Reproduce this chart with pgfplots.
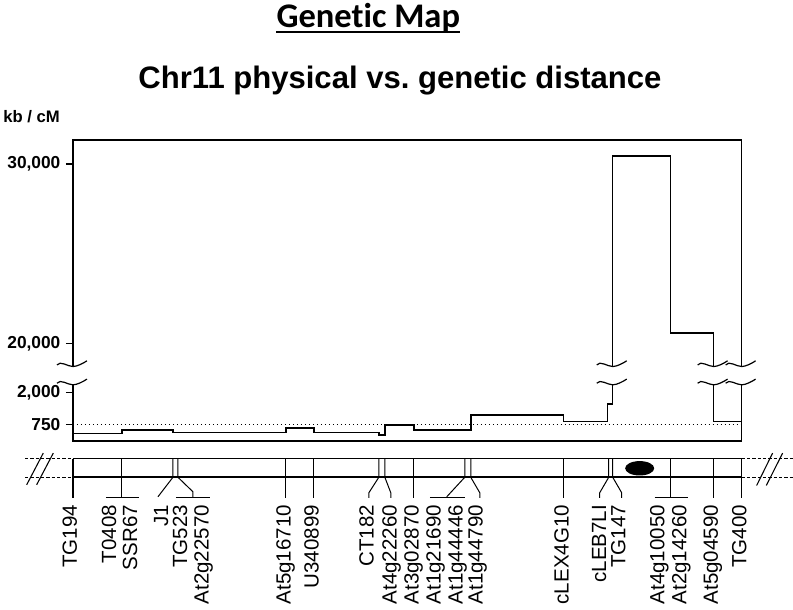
\documentclass[border=0pt]{standalone}
\usepackage{fontspec}
\setmainfont{Liberation Sans}
\newfontfamily\carlito[Ligatures=NoCommon]{Carlito}
\usepackage{pgfplots}
\pgfplotsset{compat=1.18}
\usetikzlibrary{calc}
\frenchspacing

\newcommand{\squig}[2]{%
  \draw[line width=0.9pt] ($(axis cs:#1,#2)+(-12pt,1.2pt)$) .. controls +(2.5pt,3.5pt) and +(-4pt,0pt) .. (axis cs:#1,#2)
     .. controls +(3pt,0pt) and +(-3pt,-2pt) .. ($(axis cs:#1,#2)+(10.5pt,4.3pt)$);}

\pgfplotsset{mk/.style={black, line width=0.75pt, mark=none}}
\tikzset{lab/.style={rotate=90, anchor=east, inner sep=0pt, text height=0.72em, text depth=0pt, font=\fontsize{15.4}{15.4}\selectfont}}

\begin{document}
\begin{tikzpicture}
% frame axis in (cM, pixel-row) units
\begin{axis}[name=frame, at={(0,0)}, anchor=south west, scale only axis,
  width=594.75pt, height=457.5pt, xmin=-10.912, xmax=107.623, ymin=0, ymax=610,
  y dir=reverse, hide axis, clip=false]
\path (axis cs:-10.912,0) rectangle (axis cs:107.623,610);
\coordinate (mainSW) at (axis cs:0,441);
% titles
\node[font=\carlito\bfseries\fontsize{25.9}{25.9}\selectfont, anchor=base, inner sep=0pt] (T) at (axis cs:44.17,27.5) {Genetic Map};
\draw[line width=1.6pt] ([yshift=-3.6pt]T.base west) -- ([yshift=-3.6pt]T.base east);
\node[font=\bfseries\fontsize{23.3}{23.3}\selectfont, anchor=base, inner sep=0pt] at (axis cs:48.9,88.5) {Chr11 physical vs. genetic distance};
\node[font=\bfseries\fontsize{12.5}{12.5}\selectfont, anchor=base west, inner sep=0pt] at (axis cs:-10.46,123) {kb / cM};
% chromosome bar
\draw[line width=0.8pt] (axis cs:0,459) -- (axis cs:100,459);
\draw[line width=1.5pt] (axis cs:0,477.5) -- (axis cs:100,477.5);
\draw[line width=0.6pt, dash pattern=on 2.5pt off 1.5pt] (axis cs:-7.17,459) -- (axis cs:0,459);
\draw[line width=0.6pt, dash pattern=on 2.5pt off 1.5pt] (axis cs:-7.17,477.5) -- (axis cs:0,477.5);
\draw[line width=0.6pt, dash pattern=on 2.5pt off 1.5pt] (axis cs:100,459) -- (axis cs:107.62,459);
\draw[line width=0.6pt, dash pattern=on 2.5pt off 1.5pt] (axis cs:100,477.5) -- (axis cs:107.62,477.5);
\draw[line width=0.8pt] (axis cs:-6.92,485) -- (axis cs:-4.44,453.3);
\draw[line width=0.8pt] (axis cs:-5.43,485) -- (axis cs:-2.94,453.3);
\draw[line width=0.8pt] (axis cs:102.24,485.7) -- (axis cs:104.63,453.3);
\draw[line width=0.8pt] (axis cs:103.69,485.7) -- (axis cs:106.13,453.3);
\fill (axis cs:84.75,468.5) ellipse [x radius=10.9pt, y radius=5.4pt];
% marker lines
\addplot[mk, line width=1.2pt] coordinates {(0,459) (0,498)};
\addplot[mk] coordinates {(7.32,459) (7.32,498)};
\addplot[mk] coordinates {(4.93,498) (9.87,498)};
\addplot[mk] coordinates {(14.95,459) (14.95,477.5) (12.71,497)};
\addplot[mk] coordinates {(15.70,459) (15.70,477.5) (17.94,492) (17.94,498)};
\addplot[mk] coordinates {(15.40,498) (20.48,498)};
\addplot[mk] coordinates {(31.84,459) (31.84,498)};
\addplot[mk] coordinates {(36.02,459) (36.02,498)};
\addplot[mk] coordinates {(45.74,459) (45.74,477.5) (44.25,493) (44.25,498)};
\addplot[mk] coordinates {(46.64,459) (46.64,477.5) (47.53,493) (47.53,498)};
\addplot[mk] coordinates {(50.97,459) (50.97,498)};
\addplot[mk] coordinates {(58.59,459) (58.59,477.5) (55.90,497)};
\addplot[mk] coordinates {(53.36,498) (58.59,498)};
\addplot[mk] coordinates {(59.49,459) (59.49,477.5) (60.84,493) (60.84,498)};
\addplot[mk] coordinates {(73.39,459) (73.39,498)};
\addplot[mk] coordinates {(80.12,459) (80.12,477.5) (78.77,493) (78.77,498)};
\addplot[mk] coordinates {(80.72,459) (80.72,477.5) (82.06,493) (82.06,498)};
\addplot[mk] coordinates {(89.39,459) (89.39,498)};
\addplot[mk] coordinates {(87.0,498) (91.93,498)};
\addplot[mk] coordinates {(95.81,459) (95.81,498)};
\addplot[mk, line width=1.2pt] coordinates {(100,459) (100,498)};
% marker labels
\node[lab] at (axis cs:-0.15,505) {TG194};
\node[lab] at (axis cs:5.75,505) {T0408};
\node[lab] at (axis cs:8.89,505) {SSR67};
\node[lab] at (axis cs:13.53,505) {J1};
\node[lab] at (axis cs:16.37,505) {TG523};
\node[lab] at (axis cs:19.58,505) {At2g22570};
\node[lab] at (axis cs:31.84,505) {At5g16710};
\node[lab] at (axis cs:36.02,505) {U340899};
\node[lab] at (axis cs:44.25,505) {CT182};
\node[lab] at (axis cs:47.68,505) {At4g22260};
\node[lab] at (axis cs:50.97,505) {At3g02870};
\node[lab] at (axis cs:54.26,505) {At1g21690};
\node[lab] at (axis cs:57.55,505) {At1g44446};
\node[lab] at (axis cs:60.54,505) {At1g44790};
\node[lab] at (axis cs:73.39,505) {cLEX4G10};
\node[lab] at (axis cs:79.0,505) {cLEB7LI};
\node[lab] at (axis cs:81.91,505) {TG147};
\node[lab] at (axis cs:87.74,505) {At4g10050};
\node[lab] at (axis cs:91.03,505) {At2g14260};
\node[lab] at (axis cs:95.74,505) {At5g04590};
\node[lab] at (axis cs:100,505) {TG400};
\end{axis}

% main step chart (display units: linear in pixel rows, upper segment compressed)
\begin{axis}[at={(mainSW)}, anchor=south west, scale only axis,
  width=501.75pt, height=225.75pt, xmin=0, xmax=100, ymin=125, ymax=11883,
  clip=false, axis line style={draw=none}, xtick=\empty,
  scaled y ticks=false,
  ytick={750,2000,3914,10945}, yticklabels={750,{2,000},{20,000},{30,000}},
  ytick pos=left, tick align=outside, major tick length=5.25pt,
  ytick style={line width=0.9pt, black},
  yticklabel style={font=\bfseries\fontsize{13}{13}\selectfont, inner sep=0pt, xshift=-4pt},
  y filter/.expression={y<5000 ? y : 3914+(y-20000)*0.70312}]
\addplot[black, line width=0.7pt, mark=none, dash pattern=on 0.9pt off 2.1pt] coordinates {(0,750) (100,750)};
\addplot[black, line width=1.1pt, mark=none, const plot] table {
x y
0 410
7.32 543
14.95 449
31.84 621
36.02 449
45.74 359
46.64 750
50.97 555
59.49 1141
73.39 879
79.97 1570
80.72 30444
89.39 20594
95.81 879
100 879
};
\fill[white] (axis cs:60,2312) rectangle (axis cs:101,3027);
\draw[line width=1.1pt] (axis cs:0,2312) -- (axis cs:0,125) -- (axis cs:100,125) -- (axis cs:100,2312);
\draw[line width=1.1pt] (axis cs:0,3027) -- (axis cs:0,11883) -- (axis cs:100,11883) -- (axis cs:100,3027);
\squig{0}{2312}\squig{0}{3027}
\squig{80.72}{2312}\squig{80.72}{3027}
\squig{95.81}{2312}\squig{95.81}{3027}
\squig{100}{2312}\squig{100}{3027}
\end{axis}
\end{tikzpicture}
\end{document}
